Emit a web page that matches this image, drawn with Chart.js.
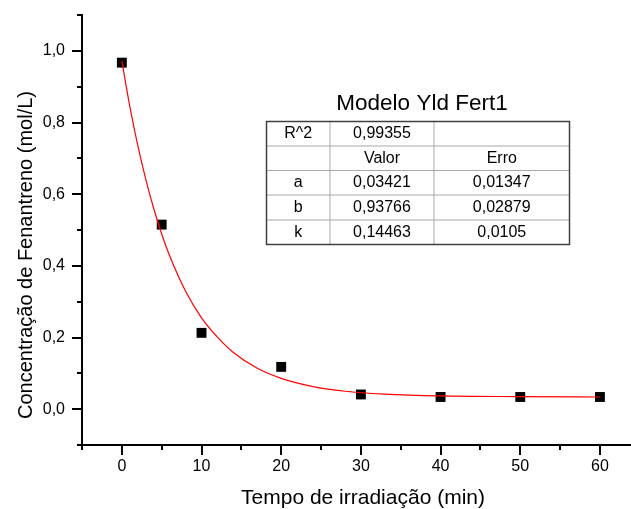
<!DOCTYPE html>
<html>
<head>
<meta charset="utf-8">
<script src="https://cdn.jsdelivr.net/npm/chart.js@4.4.0/dist/chart.umd.min.js"></script>
<style>
  html, body { margin: 0; padding: 0; background: #fff; }
  canvas { display: block; }
</style>
</head>
<body>
<canvas id="chart" width="631" height="509"></canvas>
<script>
// Pontos medidos
const tempo = [0, 5, 10, 20, 30, 40, 50, 60]
const concentracao = [0.967, 0.515, 0.213, 0.118, 0.041, 0.034, 0.034, 0.034]

// Curva de ajuste
const ajusteX = [0, 1, 2, 3, 4, 5, 6, 8, 10, 12, 14, 17, 20, 24, 28, 33, 40, 50, 60]
const ajusteY = [0.972, 0.845, 0.736, 0.642, 0.560, 0.489, 0.428, 0.329, 0.255, 0.201, 0.158, 0.114, 0.086, 0.063, 0.050, 0.042, 0.037, 0.035, 0.034]

// Marcas dos eixos
const xMajor = [0, 10, 20, 30, 40, 50, 60]
const xMinor = [-5, 5, 15, 25, 35, 45, 55]
const yMajor = [0, 0.2, 0.4, 0.6, 0.8, 1.0]
const yMinor = [-0.1, 0.1, 0.3, 0.5, 0.7, 0.9, 1.1]

const tituloX = 'Tempo de irradiação (min)'
const tituloY = 'Concentração de Fenantreno (mol/L)'

// Tabela do ajuste
const tabelaTitulo = 'Modelo Yld Fert1'
const tabelaLinhas = [
  ['R^2', '0,99355', ''],
  ['', 'Valor', 'Erro'],
  ['a', '0,03421', '0,01347'],
  ['b', '0,93766', '0,02879'],
  ['k', '0,14463', '0,0105']
]

const fonte = "'Liberation Sans', Arial, sans-serif"

function pares(xs, ys) {
  return xs.map(function (x, i) { return { x: x, y: ys[i] } })
}

// Start tick marks + axis titles (Origin style)
const marcasEixos = {
  id: 'marcasEixos',
  afterDraw(chart) {
    const ctx = chart.ctx
    const sx = chart.scales.x
    const sy = chart.scales.y
    const left = chart.chartArea.left
    const bottom = chart.chartArea.bottom
    ctx.save()
    ctx.strokeStyle = '#000'
    ctx.lineWidth = 2
    ctx.beginPath()
    yMajor.forEach(function (v) {
      const p = Math.round(sy.getPixelForValue(v))
      ctx.moveTo(left, p); ctx.lineTo(left - 10, p)
    })
    yMinor.forEach(function (v) {
      const p = Math.round(sy.getPixelForValue(v))
      ctx.moveTo(left, p); ctx.lineTo(left - 5, p)
    })
    xMajor.forEach(function (v) {
      const p = Math.round(sx.getPixelForValue(v))
      ctx.moveTo(p, bottom); ctx.lineTo(p, bottom + 10)
    })
    xMinor.forEach(function (v) {
      const p = Math.round(sx.getPixelForValue(v))
      ctx.moveTo(p, bottom); ctx.lineTo(p, bottom + 5)
    })
    ctx.stroke()

    ctx.fillStyle = '#000'
    ctx.textAlign = 'center'
    ctx.textBaseline = 'middle'
    ctx.font = '21px ' + fonte
    ctx.fillText(tituloX, 363, 498)
    ctx.translate(26, 255)
    ctx.rotate(-Math.PI / 2)
    ctx.font = '20px ' + fonte
    ctx.fillText(tituloY, 0, 0)
    ctx.restore()
  }
}
// End tick marks

// Start table
const tabelaAjuste = {
  id: 'tabelaAjuste',
  afterDraw(chart) {
    const ctx = chart.ctx
    const cols = [266.5, 330, 434, 569.5]
    const rows = [121.5, 146, 170.5, 195, 220, 244.5]
    ctx.save()
    ctx.fillStyle = '#000'
    ctx.textAlign = 'center'
    ctx.textBaseline = 'middle'
    ctx.font = '22.5px ' + fonte
    ctx.fillText(tabelaTitulo, 422, 104)

    ctx.strokeStyle = '#a8a8a8'
    ctx.lineWidth = 1
    ctx.beginPath()
    for (let i = 1; i < rows.length - 1; i++) {
      ctx.moveTo(cols[0], rows[i]); ctx.lineTo(cols[3], rows[i])
    }
    for (let j = 1; j < cols.length - 1; j++) {
      ctx.moveTo(cols[j], rows[0]); ctx.lineTo(cols[j], rows[5])
    }
    ctx.stroke()
    ctx.strokeStyle = '#404040'
    ctx.lineWidth = 1.5
    ctx.strokeRect(cols[0], rows[0], cols[3] - cols[0], rows[5] - rows[0])

    ctx.font = '16px ' + fonte
    tabelaLinhas.forEach(function (linha, i) {
      const cy = (rows[i] + rows[i + 1]) / 2
      linha.forEach(function (txt, j) {
        const cx = (cols[j] + cols[j + 1]) / 2
        ctx.fillText(txt, cx, cy)
      })
    })
    ctx.restore()
  }
}
// End table

new Chart(document.getElementById('chart'), {
  type: 'scatter',
  data: {
    datasets: [
      {
        label: 'Ajuste',
        data: pares(ajusteX, ajusteY),
        showLine: true,
        borderColor: 'rgb(255, 0, 0)',
        borderWidth: 1.2,
        pointRadius: 0,
        cubicInterpolationMode: 'monotone',
        fill: false
      },
      {
        label: 'Fenantreno',
        data: pares(tempo, concentracao),
        pointStyle: 'rect',
        pointRadius: 7,
        backgroundColor: '#000',
        borderColor: '#000',
        borderWidth: 0
      }
    ]
  },
  options: {
    responsive: false,
    animation: false,
    layout: { autoPadding: false, padding: { top: 15, right: 0, left: 0, bottom: 0 } },
    plugins: {
      legend: { display: false },
      tooltip: { enabled: false }
    },
    scales: {
      x: {
        type: 'linear',
        min: -5,
        max: 63.9,
        afterFit: function (scale) {
          scale.height = 64
          scale.paddingLeft = 0
          scale.paddingRight = 0
        },
        afterBuildTicks: function (scale) {
          scale.ticks = xMajor.map(function (v) { return { value: v } })
        },
        grid: { display: false, drawTicks: false },
        border: { display: true, color: '#000', width: 2 },
        ticks: {
          padding: 12,
          color: '#000',
          font: { family: fonte, size: 16 },
          callback: function (v) { return String(v) }
        }
      },
      y: {
        type: 'linear',
        min: -0.1,
        max: 1.1,
        afterFit: function (scale) {
          scale.width = 82
          scale.paddingTop = 0
          scale.paddingBottom = 0
        },
        afterBuildTicks: function (scale) {
          scale.ticks = yMajor.map(function (v) { return { value: v } })
        },
        grid: { display: false, drawTicks: false },
        border: { display: true, color: '#000', width: 2 },
        ticks: {
          padding: 17,
          color: '#000',
          font: { family: fonte, size: 16 },
          callback: function (v) { return v.toFixed(1).replace('.', ',') }
        }
      }
    }
  },
  plugins: [marcasEixos, tabelaAjuste]
})
</script>
</body>
</html>
